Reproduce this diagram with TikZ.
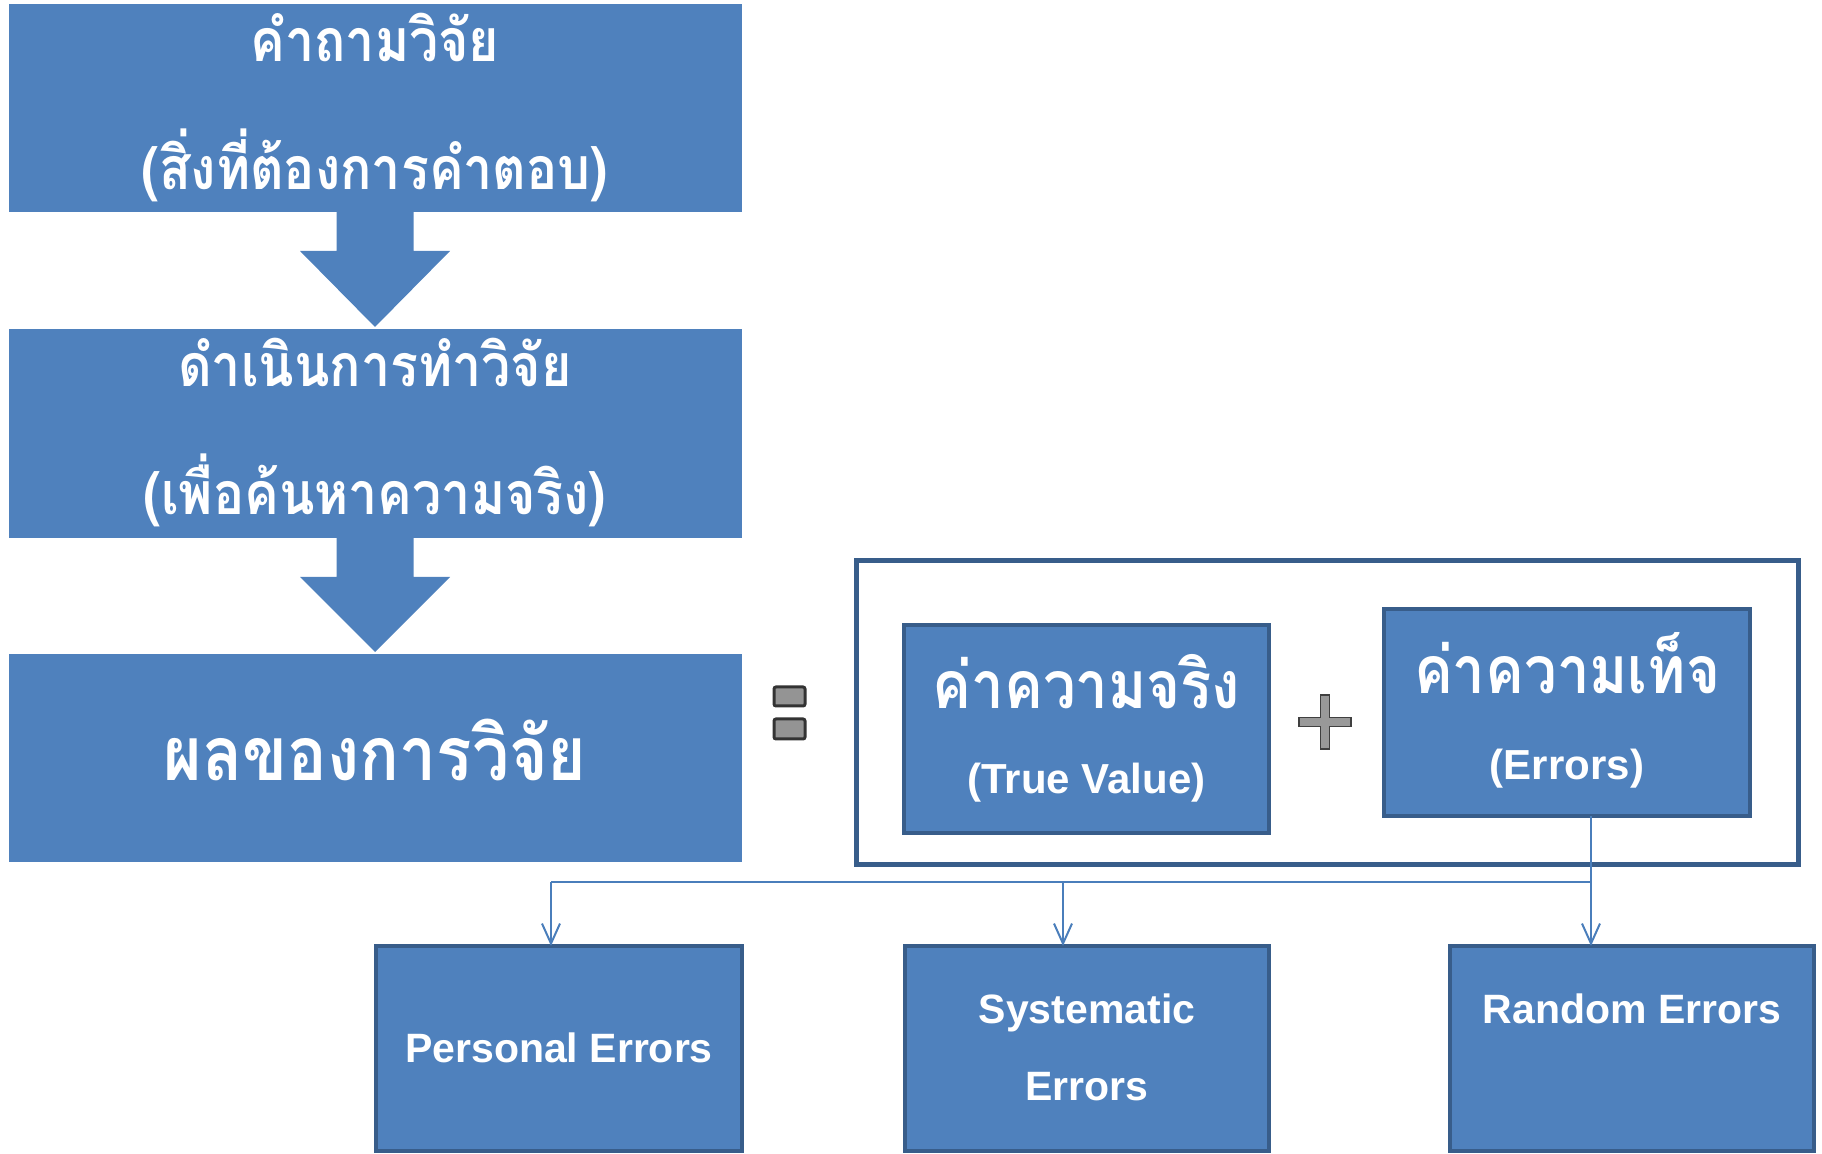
\documentclass[tikz,border=0pt]{standalone}
\usepackage{fontspec}
\setmainfont{Liberation Sans}
\newfontfamily\thaifont[Script=Thai, FakeStretch=0.88]{Loma}
\usetikzlibrary{calc,arrows.meta}
\definecolor{boxblue}{HTML}{4F81BD}
\definecolor{boxedge}{HTML}{385D8A}
\definecolor{linkblue}{HTML}{4A7EBB}
\tikzset{
  flowbox/.style={rectangle, fill=boxblue, draw=boxblue, line width=0.5pt, outer sep=0pt, inner sep=0pt},
  valbox/.style={rectangle, fill=boxblue, draw=boxedge, line width=2pt, outer sep=0pt, inner sep=0pt},
  framebox/.style={rectangle, fill=white, draw=boxedge, line width=2.5pt, outer sep=0pt, inner sep=0pt},
  txt/.style={text=white, inner sep=0pt, anchor=base},
  thtxt/.style={txt, font=\thaifont\bfseries\fontsize{29.5}{34}\selectfont},
  thbig/.style={txt, font=\thaifont\bfseries\fontsize{37.5}{43}\selectfont},
  thmid/.style={txt, font=\thaifont\bfseries\fontsize{33}{38}\selectfont},
  entxt/.style={txt, font=\bfseries\fontsize{21}{25}\selectfont},
  ensmall/.style={txt, font=\bfseries\fontsize{20.5}{24}\selectfont},
  conn/.style={draw=linkblue, line width=1pt},
  tip/.style={-{Straight Barb[length=10pt, width=9pt]}},
  eqbar/.style={fill=black!42, draw=black!80, line width=1.5pt, rounded corners=1pt},
}
\begin{document}
\begin{tikzpicture}[x=0.5pt, y=-0.5pt]
\useasboundingbox (0,0) rectangle (1822,1154);

% research flow on the left
\node[flowbox, minimum width=366pt, minimum height=103.5pt] (q) at (375,108.5) {};
\node[flowbox, minimum width=366pt, minimum height=104pt]   (r) at (375,434) {};
\node[flowbox, minimum width=366pt, minimum height=103.5pt] (s) at (375,758.5) {};

\node[thtxt] (q1) at ($(q.north)+(0,57)$)  {คำถามวิจัย};
\node[thtxt] (q2) at ($(q.north)+(0,185)$) {(สิ่งที่ต้องการคำตอบ)};
\node[thtxt] (r1) at ($(r.north)+(0,57)$)  {ดำเนินการทำวิจัย};
\node[thtxt] (r2) at ($(r.north)+(0,185)$) {(เพื่อค้นหาความจริง)};
\node[thbig] (s1) at ($(s.north)+(0,126)$) {ผลของการวิจัย};

% block arrows between the flow boxes
\fill[boxblue] ($(q.south)+(-38.5,0)$) -- ($(q.south)+(38.5,0)$) -- ($(q.south)+(38.5,39)$)
  -- ($(q.south)+(75,39)$) -- ($(r.north)+(0,-3)$) -- ($(q.south)+(-75,39)$)
  -- ($(q.south)+(-38.5,39)$) -- cycle;
\fill[boxblue] ($(r.south)+(-38.5,0)$) -- ($(r.south)+(38.5,0)$) -- ($(r.south)+(38.5,39)$)
  -- ($(r.south)+(75,39)$) -- ($(s.north)+(0,-3)$) -- ($(r.south)+(-75,39)$)
  -- ($(r.south)+(-38.5,39)$) -- cycle;

% equals sign
\draw[eqbar] (774,687) rectangle (805,706);
\draw[eqbar] (774,719) rectangle (805,739);

% result = true value + errors
\node[framebox, minimum width=471pt, minimum height=152pt] (frame) at (1327.5,713) {};
\node[valbox, minimum width=182.5pt, minimum height=104pt] (tv) at (1086.5,729) {};
\node[valbox, minimum width=183pt, minimum height=103.5pt] (err) at (1567,712.5) {};

\node[thmid] (tv1) at ($(tv.north)+(0,84)$)  {ค่าความจริง};
\node[entxt] (tv2) at ($(tv.north)+(0,169)$) {(True Value)};
\node[thmid] (er1) at ($(err.north)+(0,85)$)  {ค่าความเท็จ};
\node[entxt] (er2) at ($(err.north)+(0,171)$) {(Errors)};

% plus sign
\filldraw[fill=black!40, draw=black!75, line width=0.6pt]
  (1320.5,695) -- (1329.5,695) -- (1329.5,717.5) -- (1351,717.5) -- (1351,726.5)
  -- (1329.5,726.5) -- (1329.5,749) -- (1320.5,749) -- (1320.5,726.5) -- (1299,726.5)
  -- (1299,717.5) -- (1320.5,717.5) -- cycle;

% kinds of errors
\node[valbox, minimum width=183pt, minimum height=102.5pt] (pers) at (559,1048.5) {};
\node[valbox, minimum width=182pt, minimum height=102.5pt] (sys)  at (1087,1048.5) {};
\node[valbox, minimum width=182pt, minimum height=102.5pt] (rnd)  at (1632,1048.5) {};

\node[ensmall] (p1) at ($(pers.north)+(0,116)$) {Personal Errors};
\node[ensmall] (y1) at ($(sys.north)+(0,77)$)   {Systematic};
\node[ensmall] (y2) at ($(sys.north)+(0,154)$)  {Errors};
\node[ensmall] (d1) at ($(rnd.north)+(0,77)$)   {Random Errors};

% branching connectors
\coordinate (bus)   at (1591,882);
\coordinate (pdrop) at (551,882);
\coordinate (sdrop) at (1063,882);
\draw[conn, tip] (err.south -| bus) -- (bus |- rnd.north);
\draw[conn] (bus) -- (pdrop);
\draw[conn, tip] (pdrop) -- (pdrop |- pers.north);
\draw[conn, tip] (sdrop) -- (sdrop |- sys.north);
\end{tikzpicture}
\end{document}
